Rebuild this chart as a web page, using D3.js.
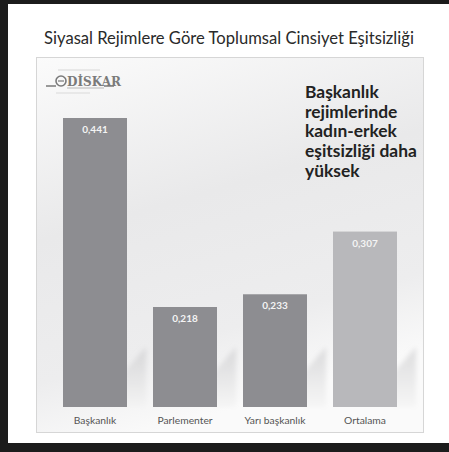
<!DOCTYPE html>
<html>
<head>
<meta charset="utf-8">
<script src="https://cdn.jsdelivr.net/npm/d3@7"></script>
<style>
  html, body { margin: 0; padding: 0; background: #fff; }
  svg { display: block; }
</style>
</head>
<body>
<div id="container"></div>
<script>
const categories = ["Başkanlık", "Parlementer", "Yarı başkanlık", "Ortalama"];
const values = [0.441, 0.218, 0.233, 0.307];
const barColors = ["#8d8d91", "#8d8d91", "#8d8d91", "#b8b8bb"];
const noteLines = ["Başkanlık", "rejimlerinde", "kadın-erkek", "eşitsizliği daha", "yüksek"];
const title = "Siyasal Rejimlere Göre Toplumsal Cinsiyet Eşitsizliği";

const W = 449, H = 452;
const svg = d3.select("#container").append("svg")
  .attr("width", W).attr("height", H);

const defs = svg.append("defs");
const bg = defs.append("linearGradient").attr("id", "bg")
  .attr("x1", 0).attr("y1", 0).attr("x2", 0.3).attr("y2", 1);
bg.append("stop").attr("offset", "0%").attr("stop-color", "#fbfbfb");
bg.append("stop").attr("offset", "45%").attr("stop-color", "#e9e9ea");
bg.append("stop").attr("offset", "80%").attr("stop-color", "#ededee");
bg.append("stop").attr("offset", "100%").attr("stop-color", "#fafafa");

const sh = defs.append("linearGradient").attr("id", "sh")
  .attr("x1", 0).attr("y1", 0).attr("x2", 0).attr("y2", 1);
sh.append("stop").attr("offset", "0%").attr("stop-color", "#c4c4c6");
sh.append("stop").attr("offset", "100%").attr("stop-color", "#f2f2f2");

defs.append("filter").attr("id", "blur")
  .append("feGaussianBlur").attr("stdDeviation", 2.5);

// black frame
svg.append("rect").attr("x", 0).attr("y", 0).attr("width", W).attr("height", H).attr("fill", "#1c1c1c");
svg.append("rect").attr("x", 8).attr("y", 4).attr("width", W - 8).attr("height", 439).attr("fill", "#fff");

// title
svg.append("text")
  .attr("x", 229).attr("y", 44)
  .attr("text-anchor", "middle")
  .attr("font-family", "Lato, 'Open Sans', sans-serif")
  .attr("font-size", 16.6)
  .attr("fill", "#2a2a2a")
  .text(title);

// inner box
svg.append("rect")
  .attr("x", 36.5).attr("y", 57.5).attr("width", 387).attr("height", 375)
  .attr("fill", "url(#bg)").attr("stroke", "#d6d6d6");

const x = d3.scaleBand().domain(categories).range([50, 410])
  .paddingInner(26 / 90).paddingOuter(13 / 90);
const y = d3.scaleLinear().domain([0.1, 0.5]).range([407, 68]);

const data = categories.map((c, i) => ({ c, v: values[i], color: barColors[i] }));

// floor shadows
svg.append("g").attr("filter", "url(#blur)")
  .selectAll("polygon").data(data).enter().append("polygon")
  .attr("points", (d) => {
    const x1 = x(d.c) + x.bandwidth() - 3;
    const b = y(0.1);
    const t = Math.max(y(d.v), b - 60);
    return [[x1, b], [x1, t + 25], [x1 + 22, t], [x1 + 22, b]].join(" ");
  })
  .attr("fill", "url(#sh)").attr("opacity", 0.55);

svg.selectAll(".bar").data(data).enter().append("rect")
  .attr("x", (d) => x(d.c))
  .attr("y", (d) => y(d.v))
  .attr("width", x.bandwidth())
  .attr("height", (d) => y(0.1) - y(d.v))
  .attr("fill", (d) => d.color);

svg.selectAll(".val").data(data).enter().append("text")
  .attr("x", (d) => x(d.c) + x.bandwidth() / 2)
  .attr("y", (d) => y(d.v) + 15)
  .attr("text-anchor", "middle")
  .attr("font-family", "Lato, sans-serif")
  .attr("font-weight", "bold")
  .attr("font-size", 10)
  .attr("fill", "#f4f4f4")
  .text((d) => d.v.toFixed(3).replace(".", ","));

svg.selectAll(".cat").data(data).enter().append("text")
  .attr("x", (d) => x(d.c) + x.bandwidth() / 2)
  .attr("y", 424)
  .attr("text-anchor", "middle")
  .attr("font-family", "Lato, sans-serif")
  .attr("font-size", 10.3)
  .attr("fill", "#555")
  .text((d) => d.c);

// annotation
svg.append("g").selectAll("text").data(noteLines).enter().append("text")
  .attr("x", 305)
  .attr("y", (d, i) => 98 + i * 19.7)
  .attr("font-family", "Lato, sans-serif")
  .attr("font-weight", "bold")
  .attr("font-size", 17.4)
  .attr("fill", "#222")
  .text((d) => d);

// logo
const logo = svg.append("g").attr("fill", "#7a7a7a").attr("stroke", "#7a7a7a");
logo.append("line").attr("x1", 46).attr("x2", 56).attr("y1", 86).attr("y2", 86).attr("stroke-width", 1.5);
logo.append("line").attr("x1", 104).attr("x2", 114).attr("y1", 86).attr("y2", 86).attr("stroke-width", 1.5);
logo.append("circle").attr("cx", 61).attr("cy", 81).attr("r", 5).attr("fill", "none").attr("stroke-width", 1.6);
logo.append("line").attr("x1", 58).attr("x2", 64).attr("y1", 81).attr("y2", 81).attr("stroke-width", 1.2);
logo.append("text").attr("x", 67).attr("y", 85.5)
  .attr("stroke", "none")
  .attr("font-family", "'DejaVu Serif', serif").attr("font-weight", "bold")
  .attr("font-size", 12).text("DİSKAR");
logo.append("line").attr("x1", 67).attr("x2", 104).attr("y1", 88).attr("y2", 88)
  .attr("stroke", "#b8b8b8").attr("stroke-width", 1);
logo.append("line").attr("x1", 58).attr("x2", 100).attr("y1", 70).attr("y2", 70)
  .attr("stroke", "#e8e8e8").attr("stroke-width", 2);
logo.append("line").attr("x1", 56).attr("x2", 90).attr("y1", 93).attr("y2", 93)
  .attr("stroke", "#e8e8e8").attr("stroke-width", 2);
</script>
</body>
</html>
